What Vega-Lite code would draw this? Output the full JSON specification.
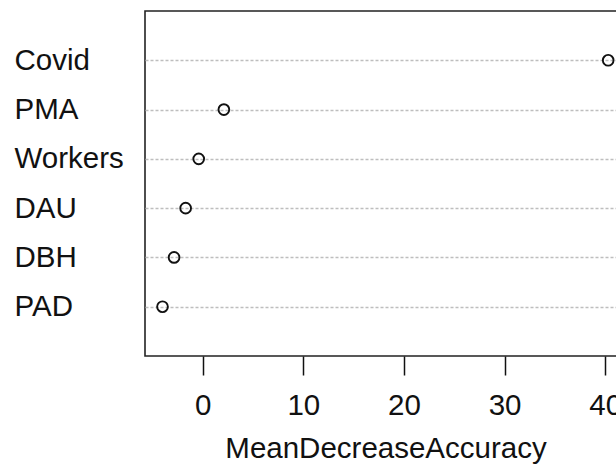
{
  "$schema": "https://vega.github.io/schema/vega-lite/v6.json",
  "autosize": "none",
  "padding": {"left": 145, "top": 11, "right": 0, "bottom": 109},
  "width": 481,
  "height": 345,
  "background": "white",
  "config": {
    "font": "Liberation Sans",
    "view": {"stroke": "#222222", "strokeWidth": 1.6}
  },
  "data": {
    "values": [
      {"var": "Covid", "MeanDecreaseAccuracy": 40.3},
      {"var": "PMA", "MeanDecreaseAccuracy": 2.1},
      {"var": "Workers", "MeanDecreaseAccuracy": -0.4},
      {"var": "DAU", "MeanDecreaseAccuracy": -1.7},
      {"var": "DBH", "MeanDecreaseAccuracy": -2.85},
      {"var": "PAD", "MeanDecreaseAccuracy": -4.0}
    ]
  },
  "mark": {"type": "point", "shape": "circle", "filled": false, "color": "#111111", "strokeWidth": 1.9, "size": 115, "opacity": 1},
  "encoding": {
    "x": {
      "field": "MeanDecreaseAccuracy",
      "type": "quantitative",
      "scale": {"domain": [-5.74, 42.07], "nice": false, "zero": false},
      "axis": {
        "values": [0, 10, 20, 30, 40],
        "grid": false,
        "domain": false,
        "tickSize": 19,
        "tickColor": "#111111",
        "tickWidth": 1.5,
        "labelFontSize": 29.5,
        "labelColor": "#111111",
        "labelPadding": 16,
        "title": "MeanDecreaseAccuracy",
        "titleFontSize": 29.5,
        "titleFontWeight": "normal",
        "titleColor": "#111111",
        "titleBaseline": "alphabetic",
        "titleY": 101
      }
    },
    "y": {
      "field": "var",
      "type": "nominal",
      "sort": ["Covid", "PMA", "Workers", "DAU", "DBH", "PAD"],
      "scale": {"type": "point", "padding": 1},
      "axis": {
        "title": null,
        "domain": false,
        "ticks": false,
        "grid": true,
        "gridColor": "#bebebe",
        "gridDash": [3, 2],
        "gridWidth": 1.5,
        "labelAlign": "left",
        "labelPadding": 131,
        "labelFontSize": 29.5,
        "labelColor": "#111111",
        "labelBaseline": "middle"
      }
    }
  }
}
